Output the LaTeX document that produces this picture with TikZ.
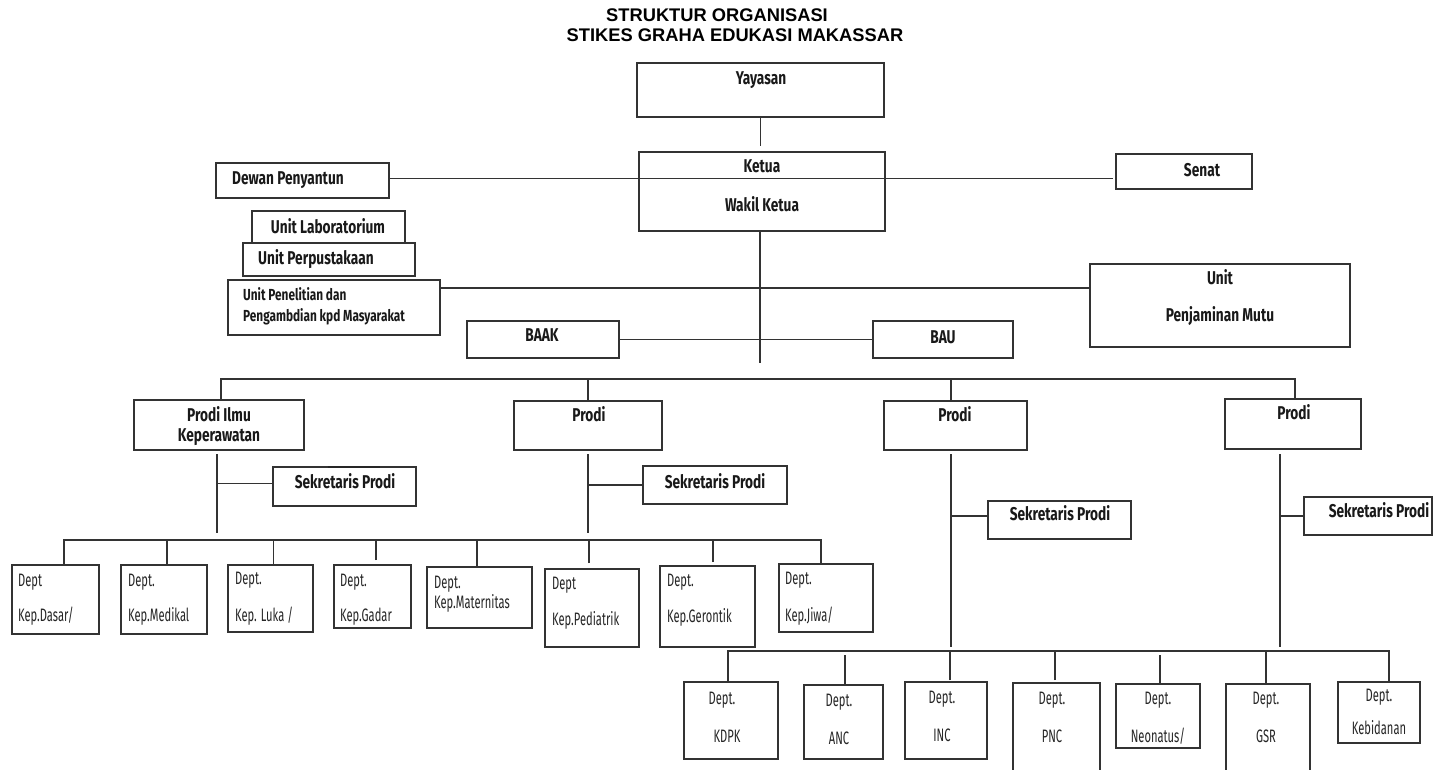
\documentclass[tikz,border=0pt]{standalone}
\usepackage{fontspec}
\setmainfont{Liberation Sans}
\newfontfamily\cfont[FakeStretch=0.74]{Fira Sans}
\newfontfamily\rfont[FakeStretch=0.62]{Fira Sans}
\newcommand\bx[5]{\node[box, minimum width={(#4)-(#2)}, minimum height={(#5)-(#3)}] (#1) at ({((#2)+(#4))/2},{((#3)+(#5))/2}) {};}
\tikzset{
  box/.style={draw=black!80, line width=1.1pt, inner sep=0pt, outer sep=0pt},
  ln/.style={draw=black!80, line width=1.1pt},
  bl/.style={font=\cfont\bfseries\fontsize{18.5}{18.5}\selectfont, inner sep=0pt, anchor=mid, text=black!90, yshift=-2pt},
  bll/.style={bl, anchor=mid west},
  rl/.style={font=\rfont\fontsize{18}{18}\selectfont, inner sep=0pt, anchor=mid west, text=black!85, yshift=-2pt},
  rc/.style={rl, anchor=mid},
  ttl/.style={font=\bfseries\fontsize{18.3}{18.3}\selectfont, inner sep=0pt, anchor=center}
}
\begin{document}
\begin{tikzpicture}[x=1pt,y=-1pt]
\fill[white] (0,0) rectangle (1437,769);
\useasboundingbox (0,0) rectangle (1437,769);
% title
\node[ttl] (t1) at (717,15) {STRUKTUR ORGANISASI};
\node[ttl] (t2) at (735,35) {STIKES GRAHA EDUKASI MAKASSAR};
% boxes
\bx{yay}{637}{63}{884}{117}
\bx{ket}{639}{152}{885}{231}
\bx{dew}{216}{163}{389}{198}
\bx{sen}{1116}{154}{1252}{189}
\bx{lab}{252}{211}{405}{243}
\bx{per}{243}{243}{415}{276}
\bx{pen}{228}{280}{440}{335}
\bx{mut}{1090}{264}{1350}{347}
\bx{baak}{467}{321}{619}{358}
\bx{bau}{873}{321}{1013}{358}
\bx{p1}{134}{400}{304}{450}
\bx{p2}{514}{401}{662}{450}
\bx{p3}{884}{401}{1027}{450}
\bx{p4}{1225}{399}{1361}{449}
\bx{s1}{273}{467}{416}{506}
\bx{s2}{643}{466}{787}{504}
\bx{s3}{988}{501}{1131}{539}
\bx{s4}{1304}{497}{1432}{535}
\bx{d1}{12}{565}{99}{634}
\bx{d2}{121}{565}{207}{634}
\bx{d3}{228}{565}{313}{632}
\bx{d4}{334}{565}{411}{628}
\bx{d5}{427}{567}{532}{628}
\bx{d6}{545}{569}{639}{647}
\bx{d7}{660}{566}{755}{647}
\bx{d8}{779}{564}{873}{632}
\bx{e1}{684}{682}{778}{759}
\bx{e2}{804}{685}{883}{759}
\bx{e3}{905}{682}{987}{759}
\bx{e4}{1013}{683}{1100}{780}
\bx{e5}{1116}{684}{1200}{748}
\bx{e6}{1226}{684}{1310}{780}
\bx{e7}{1338}{682}{1420}{743}
% small mark on top of s1
\draw[line width=2pt, black!85] ([xshift=-17pt]s1.north) -- ([xshift=35pt]s1.north);
% texts
\node[bl] (tyay) at (761,80) {Yayasan};
\node[bl] (tket) at (762,168) {Ketua};
\node[bl] (twak) at (762,207) {Wakil Ketua};
\node[bll] (tdew) at (232,180) {Dewan Penyantun};
\node[bl] (tsen) at (1202,172) {Senat};
\node[bl] (tlab) at (328,229) {Unit Laboratorium};
\node[bll] (tper) at (258,260) {Unit Perpustakaan};
\node[bll,font=\cfont\bfseries\fontsize{16}{16}\selectfont] (tpen1) at (243,296) {Unit Penelitian dan};
\node[bll,font=\cfont\bfseries\fontsize{16}{16}\selectfont] (tpen2) at (243,317) {Pengambdian kpd Masyarakat};
\node[bl] (tmu1) at (1220,280) {Unit};
\node[bl] (tmu2) at (1220,317) {Penjaminan Mutu};
\node[bl] (tbaak) at (542,337) {BAAK};
\node[bl] (tbau) at (943,339) {BAU};
\node[bl] (tp1a) at (219,417) {Prodi Ilmu};
\node[bl] (tp1b) at (219,437) {Keperawatan};
\node[bl] (tp2) at (589,417) {Prodi};
\node[bl] (tp3) at (955,417) {Prodi};
\node[bl] (tp4) at (1294,415) {Prodi};
\node[bl] (ts1) at (345,484) {Sekretaris Prodi};
\node[bl] (ts2) at (715,484) {Sekretaris Prodi};
\node[bl] (ts3) at (1060,516) {Sekretaris Prodi};
\node[bl] (ts4) at (1379,513) {Sekretaris Prodi};
% dept row 1
\node[rl] (td1a) at (18,582) {Dept};
\node[rl] (td1b) at (18,617) {Kep.Dasar/};
\node[rl] (td2a) at (128,582) {Dept.};
\node[rl] (td2b) at (128,617) {Kep.Medikal};
\node[rl] (td3a) at (235,580) {Dept.};
\node[rl] (td3b) at (235,617) {Kep. Luka /};
\node[rl] (td4a) at (340,582) {Dept.};
\node[rl] (td4b) at (340,617) {Kep.Gadar};
\node[rl] (td5a) at (434,584) {Dept.};
\node[rl] (td5b) at (434,604) {Kep.Maternitas};
\node[rl] (td6a) at (552,585) {Dept};
\node[rl] (td6b) at (552,621) {Kep.Pediatrik};
\node[rl] (td7a) at (667,582) {Dept.};
\node[rl] (td7b) at (667,618) {Kep.Gerontik};
\node[rl] (td8a) at (785,580) {Dept.};
\node[rl] (td8b) at (785,617) {Kep.Jiwa/};
% dept row 2
\node[rc] (te1a) at (722,700) {Dept.};
\node[rc] (te1b) at (727,738) {KDPK};
\node[rc] (te2a) at (839,702) {Dept.};
\node[rc] (te2b) at (839,740) {ANC};
\node[rc] (te3a) at (942,699) {Dept.};
\node[rc] (te3b) at (942,737) {INC};
\node[rc] (te4a) at (1052,700) {Dept.};
\node[rc] (te4b) at (1052,738) {PNC};
\node[rc] (te5a) at (1158,700) {Dept.};
\node[rc] (te5b) at (1158,738) {Neonatus/};
\node[rc] (te6a) at (1266,700) {Dept.};
\node[rc] (te6b) at (1266,738) {GSR};
\node[rc] (te7a) at (1379,697) {Dept.};
\node[rc] (te7b) at (1379,730) {Kebidanan};
% helper coordinates
\coordinate (yk) at (0,146);
\coordinate (hy) at (0,178.5);
\coordinate (py) at (0,288);
\coordinate (sp) at (0,363);
\coordinate (tb) at (0,379);
\coordinate (vb) at (0,533);
\coordinate (rb) at (0,540);
\coordinate (vb2) at (0,647);
\coordinate (bb) at (0,651);
% connectors
\draw[ln] (yay.south) -- (yay.south |- yk);
\draw[ln] (dew.east |- hy) -- ([xshift=-3pt]sen.west |- hy);
\draw[ln] (pen.east |- py) -- (mut.west |- py);
\draw[ln] ([xshift=-2pt]ket.south) -- ([xshift=-2pt]ket.south |- sp);
\draw[ln] (baak.east) -- (bau.west);
\draw[ln] ([xshift=2pt]p1.north) -- ([xshift=2pt]p1.north |- tb) -- ([xshift=2pt]p4.north |- tb) -- ([xshift=2pt]p4.north);
\draw[ln] (p2.north) -- (p2.north |- tb);
\draw[ln] ([xshift=-4.5pt]p3.north) -- ([xshift=-4.5pt]p3.north |- tb);
% prodi 1
\draw[ln] ([xshift=-2pt,yshift=-4pt]p1.south) -- ([xshift=-2pt]p1.south |- vb);
\draw[ln] ([yshift=3pt]s1.west) -- ([xshift=-2pt,yshift=3pt]s1.west -| p1.south);
% prodi 2
\draw[ln] ([yshift=-4pt]p2.south) -- (p2.south |- vb);
\draw[ln] (s2.west) -- (s2.west -| p2.south);
% dept bus 1
\draw[ln] ([xshift=8.5pt]d1.north) -- ([xshift=8.5pt]d1.north |- rb) -- ([xshift=-5pt]d8.north |- rb) -- ([xshift=-5pt]d8.north);
\draw[ln] ([xshift=3pt]d2.north) -- ([xshift=3pt]d2.north |- rb);
\draw[ln] ([xshift=3pt]d3.north) -- ([xshift=3pt]d3.north |- rb);
\draw[ln] ([xshift=3.5pt,yshift=5pt]d4.north) -- ([xshift=3.5pt]d4.north |- rb);
\draw[ln] ([xshift=-2.5pt]d5.north) -- ([xshift=-2.5pt]d5.north |- rb);
\draw[ln] ([xshift=-3pt,yshift=6pt]d6.north) -- ([xshift=-3pt]d6.north |- rb);
\draw[ln] ([xshift=5.5pt,yshift=4pt]d7.north) -- ([xshift=5.5pt]d7.north |- rb);
% prodi 3
\draw[ln] ([xshift=-4.5pt,yshift=-4pt]p3.south) -- ([xshift=-4.5pt]p3.south |- vb2);
\draw[ln] ([yshift=4pt]s3.west) -- ([xshift=-4.5pt,yshift=4pt]s3.west -| p3.south);
% prodi 4
\draw[ln] ([xshift=-13pt,yshift=-5pt]p4.south) -- ([xshift=-13pt]p4.south |- vb2);
\draw[ln] (s4.west) -- ([xshift=-13pt]s4.west -| p4.south);
% dept bus 2
\draw[ln] ([xshift=-3pt]e1.north) -- ([xshift=-3pt]e1.north |- bb) -- ([xshift=10pt]e7.north |- bb) -- ([xshift=10pt]e7.north);
\draw[ln] ([xshift=1.5pt]e2.north) -- ([xshift=1.5pt,yshift=-4pt]e2.north |- bb);
\draw[ln] ([xshift=4pt,yshift=2pt]e3.north) -- ([xshift=4pt]e3.north |- bb);
\draw[ln] ([xshift=-1.5pt,yshift=3pt]e4.north) -- ([xshift=-1.5pt]e4.north |- bb);
\draw[ln] ([xshift=2pt]e5.north) -- ([xshift=2pt,yshift=-4pt]e5.north |- bb);
\draw[ln] ([xshift=-2pt]e6.north) -- ([xshift=-2pt]e6.north |- bb);
\end{tikzpicture}
\end{document}
